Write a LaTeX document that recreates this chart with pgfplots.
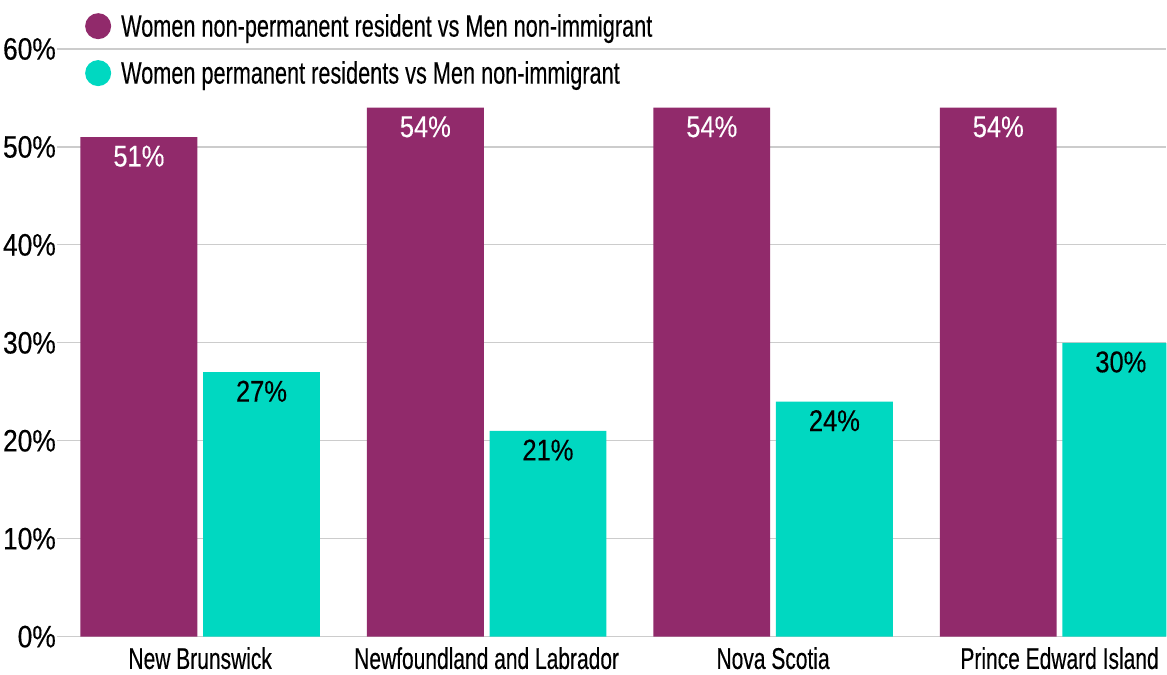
\documentclass[border=0pt]{standalone}
\usepackage{fontspec}
\setmainfont{Liberation Sans}[FakeStretch=0.7, FakeBold=0.3]
\newfontfamily\numfont{Liberation Sans}[FakeStretch=0.85, FakeBold=0.3]
\usepackage{pgfplots}
\pgfplotsset{compat=1.18}
\definecolor{cPurple}{HTML}{912A6B}
\definecolor{cTeal}{HTML}{00D8C1}
\definecolor{cGrid}{HTML}{CCCCCC}
\begin{document}
\begin{tikzpicture}
\begin{axis}[
  scale only axis,
  width=1110pt, height=588pt,
  xmin=-0.5, xmax=3.373,
  ymin=0, ymax=60,
  xtick={0,1,2,3},
  xticklabels={New Brunswick,Newfoundland and Labrador,Nova Scotia,Prince Edward Island},
  ytick={0,10,...,60},
  yticklabel={\pgfmathprintnumber{\tick}\%},
  /pgf/number format/assume math mode=true,
  xticklabel style={font=\fontsize{30}{36}\selectfont, yshift=-7pt},
  yticklabel style={font=\numfont\fontsize{31}{36}\selectfont, xshift=-1pt, inner sep=0pt},
  major tick length=0pt,
  axis line style={draw=none},
  ymajorgrids, grid style={cGrid, line width=1.2pt},
  ybar, bar width=0.408,
  nodes near coords={\pgfmathprintnumber{\pgfplotspointmeta}\%},
  every node near coord/.append style={anchor=north, yshift=-5pt, font=\numfont\fontsize{30}{36}\selectfont},
  legend style={at={(rel axis cs:0,1)}, anchor=north west, xshift=25pt, yshift=39pt,
    draw=none, fill=none, font=\fontsize{31}{36}\selectfont, row sep=19pt,
    legend cell align=left, /tikz/every odd column/.append style={column sep=8pt}},
  legend image code/.code={\fill (13pt,0pt) circle (13pt);},
]
\addplot[fill=cPurple, draw=none, bar shift=-0.214, every node near coord/.append style={text=white}]
  coordinates {(0,51) (1,54) (2,54) (3,54)};
\addplot[fill=cTeal, draw=none, bar shift=0.214, every node near coord/.append style={text=black}]
  coordinates {(0,27) (1,21) (2,24) (3,30)};
\legend{Women non-permanent resident vs Men non-immigrant, Women permanent residents vs Men non-immigrant}
\coordinate (ll) at (rel axis cs:0,0);
\coordinate (ur) at (rel axis cs:1,1);
\end{axis}
\path (ll) ++(-57pt,-38pt);
\path (ur) ++(0pt,49pt);
\end{tikzpicture}
\end{document}
